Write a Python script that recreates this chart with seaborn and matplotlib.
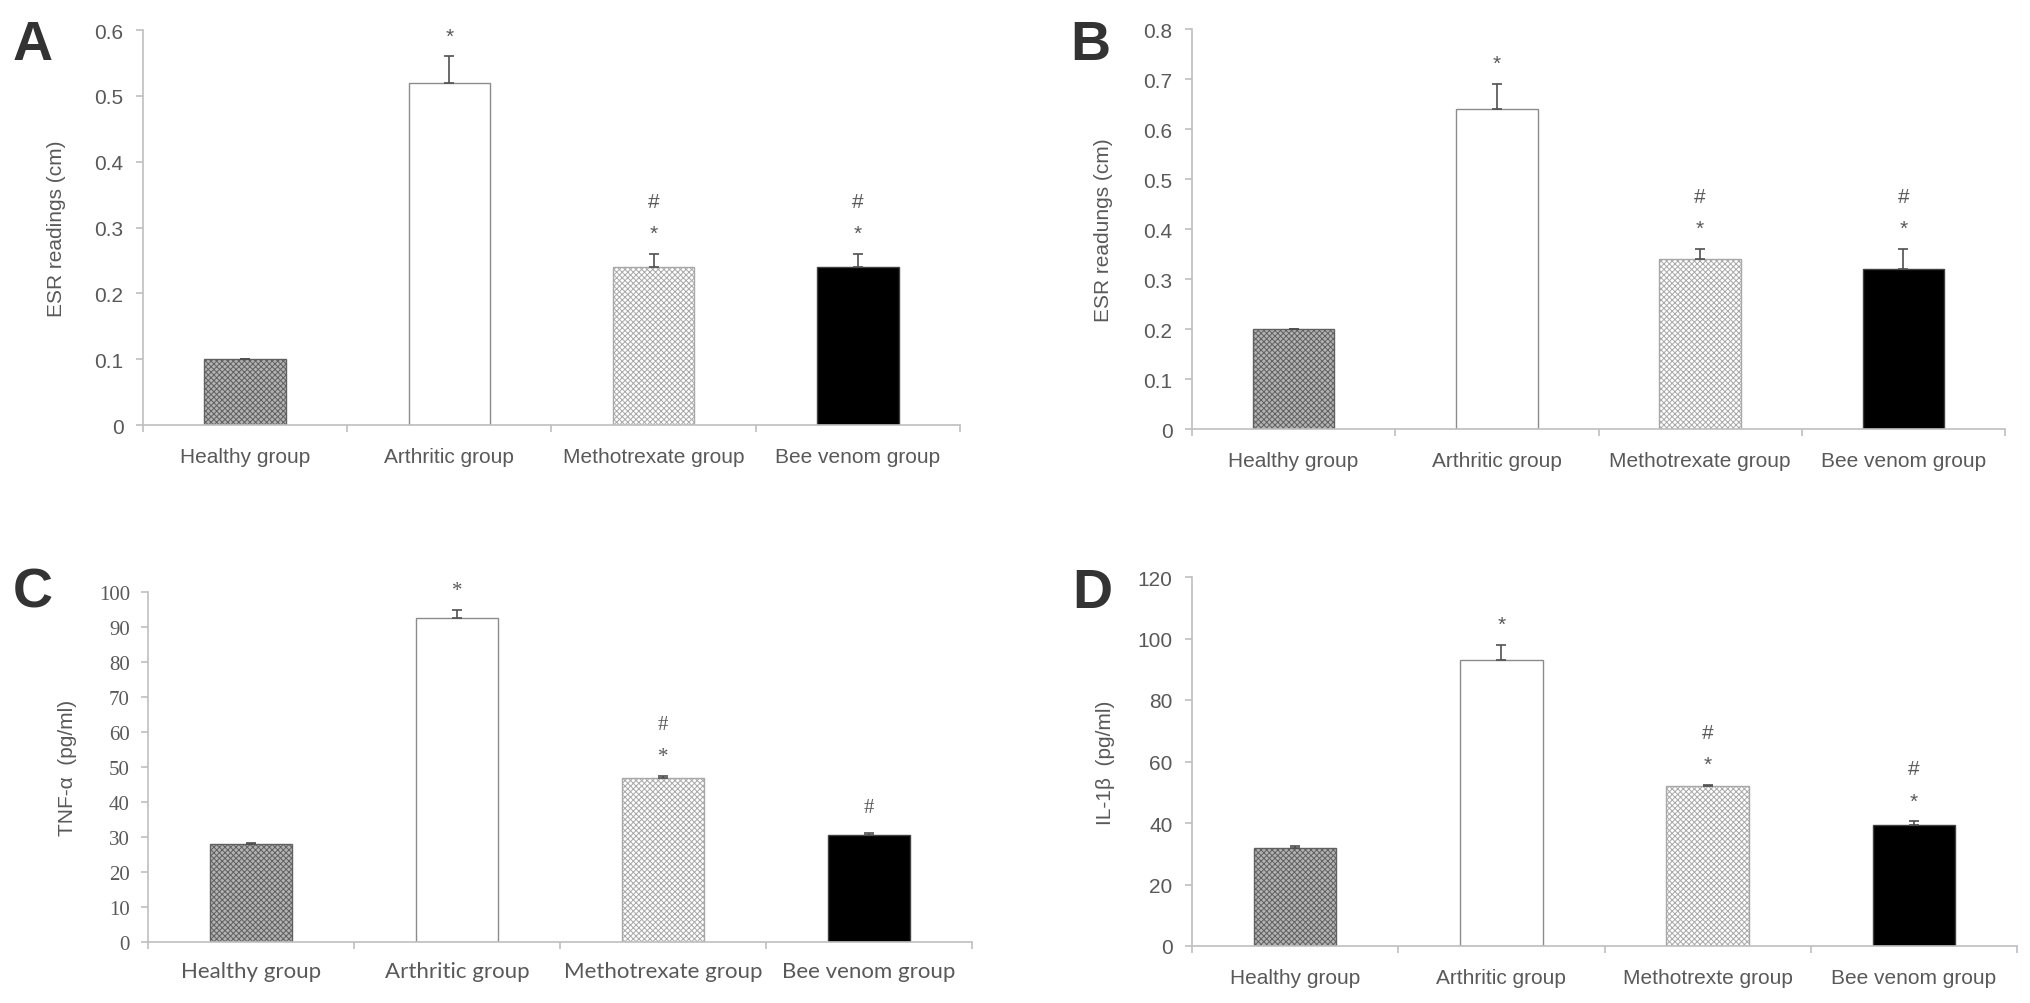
import numpy as np
import pandas as pd
import seaborn as sns
import matplotlib.pyplot as plt
from matplotlib.ticker import FuncFormatter

# data
groups = ["Healthy group", "Arthritic group", "Methotrexate group", "Bee venom group"]
groups_d = ["Healthy group", "Arthritic group", "Methotrexte group", "Bee venom group"]

esr_a = [0.10, 0.52, 0.24, 0.24]
esr_a_err = [0.0, 0.04, 0.02, 0.02]
esr_a_marks = ["", "*", "*#", "*#"]

esr_b = [0.20, 0.64, 0.34, 0.32]
esr_b_err = [0.0, 0.05, 0.02, 0.04]
esr_b_marks = ["", "*", "*#", "*#"]

tnf = [28.0, 92.5, 47.0, 30.5]
tnf_err = [0.3, 2.5, 0.5, 0.6]
tnf_marks = ["", "*", "*#", "#"]

il1b = [32.0, 93.0, 52.0, 39.5]
il1b_err = [0.4, 5.0, 0.5, 1.0]
il1b_marks = ["", "*", "*#", "*#"]

TEXT = "#595959"
AXIS = "#BFBFBF"

# bar looks: healthy = dark check, arthritic = white, mtx = light zigzag, bee venom = black
faces = ["#b3b3b3", "white", "white", "black"]
edges = ["#606060", "#8c8c8c", "#a8a8a8", "#404040"]
hatches = ["xxxxxx", None, "xxxxxx", None]

sns.set_theme(style="white")
plt.rcParams["font.family"] = ["Liberation Sans", "DejaVu Sans"]
plt.rcParams["hatch.linewidth"] = 0.7

fig = plt.figure(figsize=(20.31, 10.04), dpi=100)
W, H = 2031, 1004


def rect(left, top, right, bottom):
    return [left / W, 1 - bottom / H, (right - left) / W, (bottom - top) / H]


def draw_panel(ax, labels, values, errs, marks, ymax, step, ylabel, label_x,
               tick_font="Liberation Sans", cat_font="Liberation Sans",
               tick_size=15, cat_size=15, ypad=9, xpad=16):
    data = pd.DataFrame({"group": labels, "value": values})
    sns.barplot(data=data, x="group", y="value", ax=ax, width=0.4,
                errorbar=None, color="white")
    for patch, fc, ec, ht in zip(ax.patches, faces, edges, hatches):
        patch.set_facecolor(fc)
        patch.set_edgecolor(ec)
        patch.set_linewidth(1.0)
        if ht:
            patch.set_hatch(ht)

    centers = [p.get_x() + p.get_width() / 2 for p in ax.patches]
    ax.errorbar(centers, values, yerr=[np.zeros(len(values)), errs], fmt="none",
                ecolor="#505050", elinewidth=1.2, capsize=3.5, capthick=1.2)

    # significance marks stacked above the error bars
    for cx, v, e, m in zip(centers, values, errs, marks):
        for j, ch in enumerate(m):
            off = 15 if ch == "*" else 21
            ax.annotate(ch, xy=(cx, v + e), xytext=(0, off + 26 * j),
                        textcoords="offset pixels", ha="center", va="baseline",
                        fontsize=15, color=TEXT, family=tick_font)

    ax.set_xlim(-0.5, len(values) - 0.5)
    ax.set_ylim(0, ymax)
    ax.set_yticks(np.arange(0, ymax + step / 2, step))
    ax.yaxis.set_major_formatter(FuncFormatter(lambda v, p: f"{v:g}"))
    ax.set_xticks(range(len(values)))
    ax.set_xticks(np.arange(-0.5, len(values), 1.0), minor=True)
    ax.tick_params(axis="x", which="major", length=0, pad=xpad)
    ax.tick_params(axis="x", which="minor", length=5, width=1.2, color=AXIS,
                   direction="out", bottom=True)
    ax.tick_params(axis="y", length=5, width=1.2, color=AXIS, direction="out",
                   left=True, pad=ypad)
    for t in ax.get_yticklabels():
        t.set_fontfamily(tick_font)
        t.set_fontsize(tick_size)
        t.set_color(TEXT)
    for t in ax.get_xticklabels():
        t.set_fontfamily(cat_font)
        t.set_fontsize(cat_size)
        t.set_color(TEXT)

    sns.despine(ax=ax)
    for s in ("left", "bottom"):
        ax.spines[s].set_color(AXIS)
        ax.spines[s].set_linewidth(1.2)
    ax.set_xlabel("")
    ax.set_ylabel(ylabel, fontsize=15, color=TEXT)
    ax.yaxis.set_label_coords(label_x, 0.5)


ax_a = fig.add_axes(rect(143, 31, 960, 426))
draw_panel(ax_a, groups, esr_a, esr_a_err, esr_a_marks, 0.6, 0.1,
           "ESR readings (cm)", -0.094)

ax_b = fig.add_axes(rect(1192, 30, 2005, 430))
draw_panel(ax_b, groups, esr_b, esr_b_err, esr_b_marks, 0.8, 0.1,
           "ESR readungs (cm)", -0.097)

ax_c = fig.add_axes(rect(148, 593, 972, 943))
draw_panel(ax_c, groups, tnf, tnf_err, tnf_marks, 100, 10,
           "TNF-α  (pg/ml)", -0.086, tick_font="Liberation Serif",
           cat_font="Lato", tick_size=15, cat_size=16, ypad=8, xpad=14)

ax_d = fig.add_axes(rect(1192, 578, 2017, 947))
draw_panel(ax_d, groups_d, il1b, il1b_err, il1b_marks, 120, 20,
           "IL-1β  (pg/ml)", -0.093)

for letter, x, y in [("A", 13, 60), ("B", 1070, 60), ("C", 13, 607), ("D", 1072, 608)]:
    fig.text(x / W, 1 - y / H, letter, fontsize=40, fontweight="bold",
             color="#333333", ha="left", va="baseline")

fig.savefig("out.png", dpi=100)
